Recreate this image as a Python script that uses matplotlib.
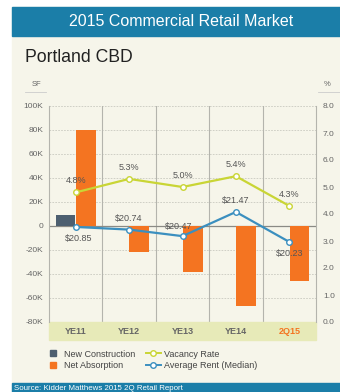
import numpy as np
import matplotlib.pyplot as plt
from matplotlib.patches import Rectangle
from matplotlib.lines import Line2D

plt.rcParams["font.family"] = ["Liberation Sans", "DejaVu Sans"]

# data
periods = ["YE11", "YE12", "YE13", "YE14", "2Q15"]
new_construction = [9000, 0, 0, 0, 0]
net_absorption = [80000, -22000, -38000, -67000, -46000]
vacancy = [4.8, 5.3, 5.0, 5.4, 4.3]
rent = [20.85, 20.74, 20.47, 21.47, 20.23]
sf_ticks = [-80000, -60000, -40000, -20000, 0, 20000, 40000, 60000, 80000, 100000]
sf_labels = ["-80K", "-60K", "-40K", "-20K", "0", "20K", "40K", "60K", "80K", "100K"]
pct_ticks = [0, 1, 2, 3, 4, 5, 6, 7, 8]

BLUE_HDR = "#1b7ea8"
CREAM = "#f6f5ea"
DARK = "#4d5f70"
ORANGE = "#f47421"
YGREEN = "#c9d535"
RBLUE = "#3b8fbf"
GRID = "#c9c9c0"
TXT = "#555555"

W, H = 340, 392
fig = plt.figure(figsize=(W / 100, H / 100), dpi=100, facecolor="white")

def fx(px):
    return px / W

def fy(py):
    return 1 - py / H

# background panels
fig.add_artist(Rectangle((fx(12), 0), 1 - fx(12), fy(7), transform=fig.transFigure,
                         color=CREAM, zorder=-10))
fig.add_artist(Rectangle((fx(12), fy(36)), 1 - fx(12), fy(7) - fy(36), transform=fig.transFigure,
                         color=BLUE_HDR, zorder=-9))
fig.add_artist(Rectangle((fx(12), 0), 1 - fx(12), fy(383), transform=fig.transFigure,
                         color=BLUE_HDR, zorder=-9))
fig.text(fx(181), fy(21), "2015 Commercial Retail Market", color="white", fontsize=11.5,
         ha="center", va="center")
fig.text(fx(25), fy(57), "Portland CBD", color="#222222", fontsize=12.7, ha="left", va="center")
fig.text(fx(14), fy(388), "Source: Kidder Matthews 2015 2Q Retail Report", color="white",
         fontsize=5.7, ha="left", va="center")

ax = fig.add_axes([fx(49), fy(322), fx(316) - fx(49), fy(106) - fy(322)])
ax.set_facecolor("none")
x = np.arange(len(periods))
ax.set_xlim(-0.5, len(periods) - 0.5)
ax.set_ylim(-80000, 100000)

for yv in sf_ticks:
    if yv != 0:
        ax.axhline(yv, color=GRID, lw=0.6, ls=(0, (2, 1.5)), zorder=0)
for xv in np.arange(0.5, len(periods) - 0.5, 1):
    ax.axvline(xv, color="#b4b4ad", lw=0.8, zorder=0)
ax.axhline(0, color="#8a8a85", lw=0.9, zorder=1)

ax.bar(x - 0.19, new_construction, width=0.37, color=DARK, zorder=2)
ax.bar(x + 0.19, net_absorption, width=0.37, color=ORANGE, zorder=2)

ax.set_yticks(sf_ticks)
ax.set_yticklabels(sf_labels)
ax.tick_params(axis="y", length=0, labelsize=6, labelcolor="#666666", pad=4)
ax.set_xticks([])
for s in ["top", "bottom"]:
    ax.spines[s].set_visible(False)
for s in ["left", "right"]:
    ax.spines[s].set_color("#b4b4ad")
    ax.spines[s].set_linewidth(0.8)

# category band under the plot
ax.add_patch(Rectangle((0, -0.085), 1, 0.085, transform=ax.transAxes, color="#e7eab8",
                       clip_on=False, zorder=0))
for i, p in enumerate(periods):
    ax.text(i, -0.042, p, transform=ax.get_xaxis_transform(), ha="center", va="center",
            fontsize=6.5, fontweight="bold", color=ORANGE if i == len(periods) - 1 else "#666666")

# vacancy on right axis
ax2 = ax.twinx()
ax2.set_ylim(0, 8)
ax2.set_yticks(pct_ticks)
ax2.set_yticklabels([f"{v:.1f}" for v in pct_ticks])
ax2.tick_params(axis="y", length=0, labelsize=6, labelcolor="#666666", pad=5)
for s in ["top", "bottom", "left", "right"]:
    ax2.spines[s].set_visible(False)
ax2.plot(x, vacancy, color=YGREEN, lw=1.6, marker="o", ms=4, mfc="white", mec=YGREEN,
         mew=1, zorder=4)
for xi, v in zip(x, vacancy):
    ax2.annotate(f"{v:.1f}%", (xi, v), xytext=(0, 5), textcoords="offset points",
                 ha="center", va="bottom", fontsize=6.5, color=TXT)

# rent on hidden axis
ax3 = ax.twinx()
ax3.set_ylim(16.92, 25.85)
ax3.axis("off")
ax3.plot(x, rent, color=RBLUE, lw=1.6, marker="o", ms=4, mfc="white", mec=RBLUE,
         mew=1, zorder=4)
rent_offsets = [(2, -5), (0, 5), (-3, 4), (0, 5), (0, -5)]
for xi, r, off in zip(x, rent, rent_offsets):
    ax3.annotate(f"${r:.2f}", (xi, r), xytext=off, textcoords="offset points",
                 ha="center", va="bottom" if off[1] > 0 else "top", fontsize=6.5, color=TXT)

# axis unit labels
fig.text(fx(36), fy(85), "SF", fontsize=5.5, color="#666666", ha="center", va="center")
fig.add_artist(Line2D([fx(25), fx(46)], [fy(92), fy(92)], color="#cccccc", lw=0.6))
fig.text(fx(327), fy(85), "%", fontsize=5.5, color="#666666", ha="center", va="center")
fig.add_artist(Line2D([fx(318), fx(340)], [fy(92), fy(92)], color="#cccccc", lw=0.6))

handles = [
    Line2D([], [], ls="none", marker="s", ms=4.5, color=DARK),
    Line2D([], [], ls="none", marker="s", ms=4.5, color=ORANGE),
    Line2D([], [], color=YGREEN, lw=1.4, marker="o", ms=4, mfc="white", mec=YGREEN),
    Line2D([], [], color=RBLUE, lw=1.4, marker="o", ms=4, mfc="white", mec=RBLUE),
]
labels = ["New Construction", "Net Absorption", "Vacancy Rate", "Average Rent (Median)"]
fig.legend(handles, labels, ncol=2, loc="center left", bbox_to_anchor=(fx(38), fy(360)),
           frameon=False, fontsize=6.5, handlelength=1.6, handletextpad=0.4,
           columnspacing=1.2, labelspacing=0.3, labelcolor="#444444")

fig.savefig("out.png", dpi=100, facecolor="white")
